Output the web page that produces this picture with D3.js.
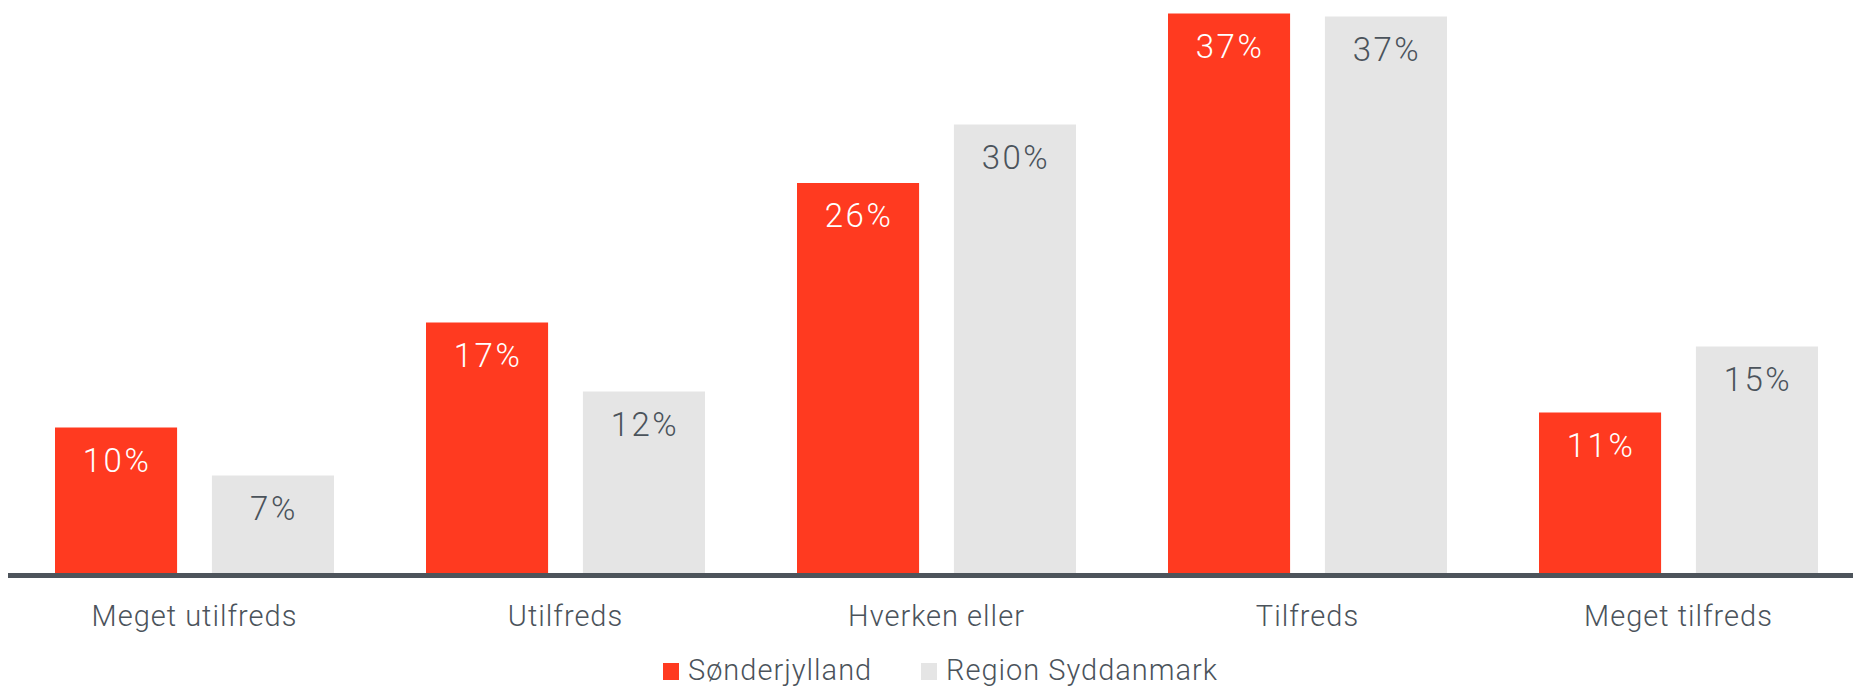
<!DOCTYPE html>
<html>
<head>
<meta charset="utf-8">
<script src="https://cdn.jsdelivr.net/npm/d3@7"></script>
<style>
  html, body { margin: 0; padding: 0; background: #fff; overflow: hidden; }
  text { font-family: Roboto, "Open Sans", sans-serif; }
</style>
</head>
<body>
<div id="chart"></div>
<script>
// Tilfredshed: Sønderjylland vs Region Syddanmark

const categories = ["Meget utilfreds", "Utilfreds", "Hverken eller", "Tilfreds", "Meget tilfreds"];
const seriesNames = ["Sønderjylland", "Region Syddanmark"];
const soenderjylland = [9.7, 16.7, 26.0, 37.3, 10.7];
const regionSyd = [6.5, 12.1, 29.9, 37.1, 15.1];

const colors = { "Sønderjylland": "#ff3a20", "Region Syddanmark": "#e5e5e5" };
const labelColors = { "Sønderjylland": "#ffffff", "Region Syddanmark": "#4b535b" };

const width = 1853, height = 687;
const baseline = 573;

const rows = categories.map((c, i) => ({
  category: c,
  values: [
    { series: seriesNames[0], value: soenderjylland[i] },
    { series: seriesNames[1], value: regionSyd[i] }
  ]
}));

const svg = d3.select("#chart")
  .append("svg")
  .attr("width", width)
  .attr("height", height);

const x0 = d3.scaleBand()
  .domain(categories)
  .range([9, 1864])
  .paddingInner(0.248)
  .paddingOuter(0.124);

const x1 = d3.scaleBand()
  .domain(seriesNames)
  .range([0, x0.bandwidth()])
  .paddingInner(0.222)
  .paddingOuter(0);

const y = d3.scaleLinear()
  .domain([0, 38])
  .range([baseline, baseline - 570]);

const groups = svg.selectAll(".group")
  .data(rows)
  .enter()
  .append("g")
  .attr("class", "group")
  .attr("transform", d => `translate(${x0(d.category)},0)`);

groups.selectAll("rect")
  .data(d => d.values)
  .enter()
  .append("rect")
  .attr("x", d => x1(d.series))
  .attr("y", d => y(d.value))
  .attr("width", x1.bandwidth())
  .attr("height", d => y(0) - y(d.value))
  .attr("fill", d => colors[d.series]);

groups.selectAll(".value-label")
  .data(d => d.values)
  .enter()
  .append("text")
  .attr("class", "value-label")
  .attr("x", d => x1(d.series) + x1.bandwidth() / 2 + 1)
  .attr("y", d => y(d.value) + 44)
  .attr("text-anchor", "middle")
  .style("font-size", "33px")
  .style("font-weight", 300)
  .style("letter-spacing", "2.5px")
  .attr("fill", d => labelColors[d.series])
  .text(d => Math.round(d.value) + "%");

// x axis
const xAxis = svg.append("g")
  .attr("transform", `translate(0,${baseline + 2.5})`)
  .call(d3.axisBottom(x0).tickSize(0).tickPadding(0));

xAxis.select(".domain")
  .attr("d", `M8,0H${width}`)
  .attr("stroke", "#4d545b")
  .attr("stroke-width", 5);

xAxis.selectAll(".tick text")
  .attr("dy", null)
  .attr("y", 50)
  .attr("fill", "#4b535b")
  .style("font-size", "29px")
  .style("font-weight", 300)
  .style("letter-spacing", "1px")
  .style("font-family", "Roboto, sans-serif");

// legend
const legendItems = [
  { name: seriesNames[0], x: 663 },
  { name: seriesNames[1], x: 921 }
];

const legend = svg.append("g").attr("class", "legend");

legend.selectAll("rect")
  .data(legendItems)
  .enter()
  .append("rect")
  .attr("x", d => d.x)
  .attr("y", 663)
  .attr("width", 16)
  .attr("height", 17)
  .attr("fill", d => colors[d.name]);

legend.selectAll("text")
  .data(legendItems)
  .enter()
  .append("text")
  .attr("x", d => d.x + 25)
  .attr("y", 680)
  .attr("fill", "#4b535b")
  .style("font-size", "29px")
  .style("font-weight", 300)
  .style("letter-spacing", "1px")
  .text(d => d.name);
</script>
</body>
</html>
